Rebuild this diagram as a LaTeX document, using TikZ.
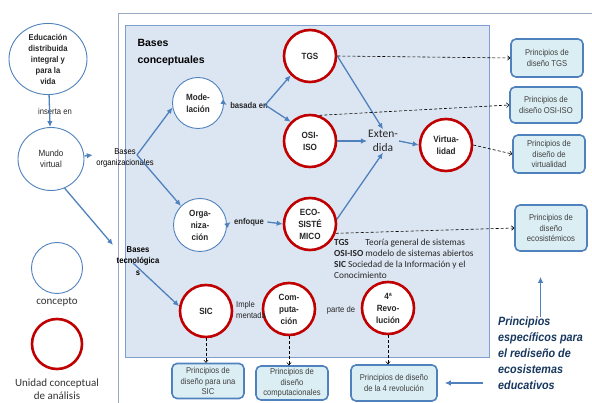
\documentclass[tikz,border=0pt]{standalone}
\usepackage{fontspec}
\setmainfont{Liberation Sans}
\newfontfamily\narrowfont[FakeStretch=0.9]{Liberation Sans}
\newfontfamily\calfont{Carlito}
\usetikzlibrary{arrows.meta,positioning,shapes.geometric}

\definecolor{linkblue}{HTML}{4F81BD}
\definecolor{unitred}{HTML}{C00000}
\definecolor{panelfill}{HTML}{DCE6F2}
\definecolor{paneldraw}{HTML}{7E9ED0}
\definecolor{boxfill}{HTML}{DBEEF4}
\definecolor{framegray}{HTML}{98A9C6}
\definecolor{notenavy}{HTML}{17375E}

\begin{document}
\begin{tikzpicture}[x=1pt,y=-1pt,
  every node/.style={font=\narrowfont\fontsize{8.5}{11.5}\selectfont,align=center,text=black!85},
  concept/.style={circle,draw=linkblue,line width=0.9pt,fill=white,minimum size=51pt,inner sep=0pt,
    font=\narrowfont\bfseries\fontsize{9}{12}\selectfont},
  unit/.style={circle,draw=unitred,line width=2.6pt,fill=white,minimum size=52pt,inner sep=0pt,
    font=\narrowfont\bfseries\fontsize{9}{12}\selectfont},
  principle/.style={rectangle,rounded corners=5pt,draw=linkblue,line width=1.6pt,fill=boxfill,
    minimum width=72pt,minimum height=36pt,inner sep=1pt,text=black!75,
    font=\narrowfont\fontsize{8.5}{10.8}\selectfont},
  link/.style={draw=linkblue,line width=1.3pt,-{Latex[length=6pt,width=5.5pt]}},
  design/.style={densely dashed,line width=0.6pt,-{To[length=3pt,width=5pt]}},
  legendtxt/.style={font=\calfont\fontsize{11}{12.5}\selectfont,text=black!80}
]
\useasboundingbox (0,0) rectangle (592,403);

% ------------------------------------------------------------
% Frames: outer analysis frame and the conceptual panel
% ------------------------------------------------------------
\draw[framegray,line width=0.8pt] (118,403) -- (118,13) -- (592,13);
\draw[paneldraw,line width=0.8pt,fill=panelfill] (125,25) rectangle (489,357);
\node[anchor=north west,align=left,font=\bfseries\fontsize{10.5}{16.5}\selectfont,text=black]
  (bconc) at (134,36) {Bases\\conceptuales};

% ------------------------------------------------------------
% Left column: starting concepts and the legend
% ------------------------------------------------------------
\node[ellipse,draw=linkblue,line width=0.9pt,fill=white,minimum width=78pt,minimum height=64pt,
  inner sep=0pt,font=\narrowfont\bfseries\fontsize{8.5}{11}\selectfont] (edu) at (48,59)
  {Educación\\distribuida\\integral y\\para la\\vida};
\node[ellipse,draw=linkblue,line width=0.9pt,fill=white,minimum width=66pt,minimum height=63pt,
  inner sep=0pt,font=\narrowfont\fontsize{9}{11.5}\selectfont] (mundo) at (51,159) {Mundo\\virtual};
\node (ins) at (55,111) {inserta en};

\node[concept] (lconc) at (57,268) {};
\node[legendtxt] (lconctxt) at (57,302) {concepto};
\node[unit,minimum size=50pt] (lunit) at (57,344) {};
\node[legendtxt] (lunittxt) at (57,389) {Unidad conceptual\\de análisis};

% ------------------------------------------------------------
% Bases organizacionales / tecnológicas
% ------------------------------------------------------------
\node[font=\narrowfont\fontsize{8.5}{11}\selectfont,text=black] (borg) at (125,158) {Bases\\organizacionales};
\coordinate (borgpt) at (137,155);
\node[font=\narrowfont\bfseries\fontsize{8.5}{11.5}\selectfont,text=black] (btec) at (138,261)
  {Bases\\tecnológica\\s};
\coordinate (techin) at (113,245);
\coordinate (techout) at (133,263);

% ------------------------------------------------------------
% Concepts inside the panel
% ------------------------------------------------------------
\node[concept] (mod) at (198,103) {Mode-\\lación};
\node[concept,minimum size=53pt] (org) at (200,225) {Orga-\\niza-\\ción};
\node[font=\narrowfont\bfseries\fontsize{8.5}{9}\selectfont] (basada) at (249,105) {basada en};
\node[font=\narrowfont\bfseries\fontsize{8.5}{9}\selectfont] (enf) at (249,222) {enfoque};

\node[unit] (tgs) at (310,56) {TGS};
\node[unit] (osi) at (310,141) {OSI-\\ISO};
\node[unit] (eco) at (310,224) {ECO-\\SISTÉ\\MICO};
\node[font=\calfont\fontsize{11.5}{13.5}\selectfont,inner sep=1pt] (ext) at (383,141) {Exten-\\dida};
\node[unit] (virt) at (446,145) {Virtua-\\lidad};

\node[unit] (sic) at (206,311) {SIC};
\node[unit] (comp) at (289,309) {Com-\\puta-\\ción};
\node[unit] (rev) at (388,308) {4ª\\Revo-\\lución};
\node[anchor=west,align=left,font=\narrowfont\fontsize{8.5}{11}\selectfont,inner sep=0pt] (impl) at (236,310) {Imple\\mentada};
\node (parte) at (341,310) {parte de};

% legend of acronyms
\node[anchor=north west,align=left,inner sep=0pt,font=\calfont\fontsize{9.3}{11}\selectfont,text=black!85]
  (acr) at (334,239)
  {\rlap{\textbf{TGS}}\hphantom{\textbf{OSI-ISO}} Teoría general de sistemas\\
   \textbf{OSI-ISO} modelo de sistemas abiertos\\
   \textbf{SIC} Sociedad de la Información y el\\
   Conocimiento};

% ------------------------------------------------------------
% Design principles (boxes)
% ------------------------------------------------------------
\node[principle,minimum height=38pt] (ptgs) at (547,58) {Principios de\\diseño TGS};
\node[principle] (posi) at (546,105) {Principios de\\diseño OSI-ISO};
\node[principle,minimum height=38pt] (pvirt) at (549,154) {Principios de\\diseño de\\virtualidad};
\node[principle,minimum height=46pt] (peco) at (551,228)
  {Principios de\\diseño\\ecosistémicos};
\node[principle,minimum height=35pt] (psic) at (208,381) {Principios de\\diseño para una\\SIC};
\node[principle,minimum height=34pt] (pcomp) at (292,383) {Principios de\\diseño\\computacionales};
\node[principle,minimum width=86pt] (prev) at (394,383) {Principios de diseño\\de la 4 revolución};

\node[anchor=north west,align=left,inner sep=0pt,text=notenavy,
  font=\narrowfont\bfseries\itshape\fontsize{12}{15.8}\selectfont] (note) at (498,317)
  {Principios\\específicos para\\el rediseño de\\ecosistemas\\educativos};

% ------------------------------------------------------------
% Links
% ------------------------------------------------------------
\draw[link] (edu) -- (mundo);
\draw[link] ([yshift=3pt]mundo.east) -- (borg.west |- borgpt);
\draw[link] (mundo.-65) -- (techin);
\draw[link] (borgpt) -- (mod.190);
\draw[link] (borgpt) -- (org.135);
\draw[link] (mod.east) -- (basada.west);
\draw[link] ([xshift=-6pt]basada.east) -- (tgs.225);
\draw[link] ([xshift=-6pt]basada.east) -- (osi.135);
\draw[link] (org.east) -- (enf.west);
\draw[link] (enf.east) -- (eco.west);
\draw[link] (tgs.east) -- (ext.north);
\draw[link] (osi.east) -- (ext.west);
\draw[link] (eco.10) -- (ext.south);
\draw[link] (ext.east) -- (virt.west);
\draw[link] (techout) -- (sic.170);

% dashed: concepts to their design principles
\draw[design] (tgs.east) -- (ptgs.west);
\draw[design] (osi.70) -- (posi.west);
\draw[design] (virt.east) -- (pvirt.west);
\draw[design] (eco.-20) -- (peco.west);
\draw[design] (sic.south) -- (sic.south |- psic.north);
\draw[design] (comp.south) -- (comp.south |- pcomp.north);
\draw[design] (rev.south) -- (rev.south |- prev.north);

% note arrows
\draw[link] (note.north) -- (note.north |- peco.south) [shorten >=25pt];
\draw[link,shorten <=15pt,shorten >=7pt] (note.west |- prev.east) -- (prev.east);

\end{tikzpicture}
\end{document}
